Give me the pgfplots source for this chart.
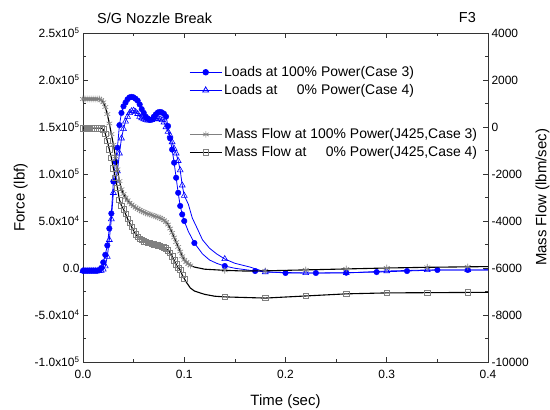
\documentclass[border=0pt]{standalone}
\usepackage{pgfplots}
\pgfplotsset{compat=1.18}
\usepackage{pgfplotstable}
\usepackage{fontspec}
\setmainfont{Liberation Sans}

% t = time (sec), y = value, m = 1 where a marker is drawn
\pgfplotstableread{
t y m
0.000 -3000 1
0.002 -3000 1
0.004 -3000 1
0.006 -3000 1
0.008 -3000 1
0.010 -3000 1
0.012 -3000 1
0.014 -3000 1
0.016 -2500 1
0.018 0 1
0.020 6000 1
0.022 14000 1
0.024 24000 1
0.026 42000 1
0.028 58000 1
0.030 92000 1
0.032 113000 1
0.034 128000 1
0.036 152000 1
0.038 165000 1
0.040 172000 1
0.042 176000 1
0.044 179500 1
0.046 181500 1
0.048 182000 1
0.050 181500 1
0.052 180000 1
0.054 178000 1
0.056 174000 1
0.058 169000 1
0.060 165000 1
0.062 161000 1
0.064 159000 1
0.066 157500 1
0.068 158000 1
0.070 161000 1
0.072 163500 1
0.074 165500 1
0.076 166000 1
0.078 165500 1
0.080 164000 1
0.082 161000 1
0.084 151000 1
0.086 138000 1
0.088 126000 1
0.090 112000 1
0.092 96000 1
0.094 80000 1
0.096 66000 1
0.098 57000 1
0.100 50000 1
0.104 39000 0
0.110 26600 1
0.118 15000 0
0.125 8500 0
0.132 5000 0
0.140 2100 1
0.150 -300 0
0.170 -3200 1
0.200 -5300 1
0.230 -5300 1
0.260 -5000 1
0.290 -4300 1
0.320 -3200 1
0.350 -2100 1
0.380 -2100 1
0.400 -2000 0
}\loadsfull

\pgfplotstableread{
t y m
0.000 -3000 1
0.002 -3000 1
0.004 -3000 1
0.006 -3000 1
0.008 -3000 1
0.010 -3000 1
0.012 -3000 1
0.014 -3000 1
0.016 -3000 1
0.018 -2800 1
0.020 -1500 1
0.022 2000 1
0.024 12000 1
0.026 30000 1
0.028 52000 1
0.030 80000 1
0.032 93000 1
0.034 103000 1
0.036 122000 1
0.038 138000 1
0.040 148000 1
0.042 156000 1
0.044 161000 1
0.046 165000 1
0.048 167000 1
0.050 167500 1
0.052 166000 1
0.054 164000 1
0.056 161000 1
0.058 159500 1
0.060 158500 1
0.062 157500 1
0.064 157000 1
0.066 157000 1
0.068 157500 1
0.070 158500 1
0.072 159000 1
0.074 159000 1
0.076 158500 1
0.078 157500 1
0.080 155000 1
0.082 150000 1
0.084 145000 1
0.086 141000 1
0.088 134000 1
0.090 127000 1
0.092 122000 1
0.094 114000 1
0.096 104000 1
0.098 88000 1
0.100 77000 1
0.104 68000 0
0.108 53000 0
0.112 44000 0
0.118 30000 0
0.125 21000 0
0.132 15000 0
0.140 9600 1
0.150 5000 0
0.165 1000 0
0.180 -4300 1
0.220 -5300 1
0.260 -5300 1
0.300 -3200 1
0.340 -2100 1
0.380 -2100 1
0.400 -2000 0
}\loadszero

\pgfplotstableread{
t y m
0.000 1190 1
0.002 1190 1
0.004 1190 1
0.006 1190 1
0.008 1190 1
0.010 1190 1
0.012 1190 1
0.014 1190 1
0.016 1190 1
0.018 1150 1
0.020 1050 1
0.022 850 1
0.024 550 1
0.026 150 1
0.028 -300 1
0.030 -750 1
0.032 -1250 1
0.034 -1800 1
0.036 -2300 1
0.038 -2650 1
0.040 -2850 1
0.042 -3000 1
0.044 -3120 1
0.046 -3220 1
0.048 -3300 1
0.050 -3370 1
0.052 -3430 1
0.054 -3480 1
0.056 -3530 1
0.058 -3580 1
0.060 -3620 1
0.062 -3660 1
0.064 -3690 1
0.066 -3720 1
0.068 -3750 1
0.070 -3780 1
0.072 -3810 1
0.074 -3840 1
0.076 -3870 1
0.078 -3910 1
0.080 -3970 1
0.082 -4040 1
0.084 -4150 1
0.086 -4320 1
0.088 -4500 1
0.090 -4700 1
0.092 -4900 1
0.094 -5100 1
0.096 -5300 1
0.098 -5500 1
0.100 -5650 1
0.102 -5750 1
0.104 -5830 1
0.106 -5890 1
0.110 -5960 0
0.120 -6050 0
0.140 -6100 1
0.160 -6130 0
0.180 -6120 1
0.220 -6080 1
0.260 -6040 1
0.300 -6000 1
0.340 -5970 1
0.380 -5950 1
0.400 -5940 0
}\flowfull

\pgfplotstableread{
t y m
0.000 -50 1
0.002 -50 1
0.004 -50 1
0.006 -50 1
0.008 -50 1
0.010 -50 1
0.012 -50 1
0.014 -50 1
0.016 -50 1
0.018 -50 1
0.020 -100 1
0.022 -280 1
0.024 -600 1
0.026 -950 1
0.028 -1300 1
0.030 -1750 1
0.032 -2150 1
0.034 -2600 1
0.036 -3100 1
0.038 -3350 1
0.040 -3500 1
0.042 -3700 1
0.044 -3900 1
0.046 -4080 1
0.048 -4250 1
0.050 -4420 1
0.052 -4560 1
0.054 -4670 1
0.056 -4750 1
0.058 -4810 1
0.060 -4860 1
0.062 -4890 1
0.064 -4920 1
0.066 -4940 1
0.068 -4970 1
0.070 -4990 1
0.072 -5010 1
0.074 -5030 1
0.076 -5060 1
0.078 -5090 1
0.080 -5120 1
0.082 -5170 1
0.084 -5250 1
0.086 -5350 1
0.088 -5500 1
0.090 -5680 1
0.092 -5850 1
0.094 -5980 1
0.096 -6080 1
0.098 -6300 1
0.100 -6450 1
0.102 -6600 0
0.106 -6850 0
0.110 -6980 0
0.120 -7120 0
0.130 -7200 0
0.140 -7230 1
0.180 -7280 1
0.220 -7190 1
0.260 -7100 1
0.300 -7060 1
0.340 -7050 1
0.380 -7040 1
0.400 -7040 0
}\flowzero

\begin{document}
\begin{tikzpicture}
\pgfplotsset{
  every axis/.append style={
    scale only axis, width=405bp, height=329bp,
    xmin=0, xmax=0.4,
    tick align=inside,
    major tick length=5bp, minor tick length=3bp,
    tick style={black!80, line width=0.6bp},
    axis line style={black!80, line width=0.8bp},
    tick label style={font=\fontsize{12}{14}\selectfont},
    label style={font=\fontsize{15}{17}\selectfont},
    legend style={draw=none, fill=none, inner sep=0pt, row sep=2.5bp,
      font=\fontsize{14}{16}\selectfont, cells={anchor=west}},
    legend image code/.code={\draw[mark repeat=2,mark phase=2,#1]
      plot coordinates {(0bp,0bp)(16bp,0bp)(32bp,0bp)};},
  },
  onlyflagged/.style={only marks, forget plot,
    restrict expr to domain={\thisrow{m}}{0.5:1.5}},
}
\useasboundingbox (-83bp,-48bp) rectangle (467bp,362bp);

\begin{axis}[
  name=ax1,
  ymin=-100000, ymax=250000,
  scaled y ticks=false,
  xtick={0,0.1,0.2,0.3,0.4},
  xticklabels={0.0,0.1,0.2,0.3,0.4},
  xticklabel style={yshift=-5bp},
  minor x tick num=1,
  xtick pos=both,
  ytick={-100000,-50000,0,50000,100000,150000,200000,250000},
  yticklabels={-1.0x10\textsuperscript{5},-5.0x10\textsuperscript{4},0.0,
    5.0x10\textsuperscript{4},1.0x10\textsuperscript{5},1.5x10\textsuperscript{5},
    2.0x10\textsuperscript{5},2.5x10\textsuperscript{5}},
  minor y tick num=1,
  ytick pos=left,
  xlabel={Time (sec)},
  xlabel style={yshift=-9bp},
  ylabel={Force (lbf)},
  legend style={at={(0.262,0.905)}, anchor=north west},
]
% Loads at 100% power: blue line, filled circles
\addplot[blue, line width=0.8bp, forget plot] table[x=t, y=y] {\loadsfull};
\addplot[blue, mark=*, mark size=2.8bp, onlyflagged] table[x=t, y=y] {\loadsfull};
% Loads at 0% power: blue line, open triangles
\addplot[blue, line width=0.8bp, forget plot] table[x=t, y=y] {\loadszero};
\addplot[blue, mark=triangle, mark size=3.4bp, mark options={line width=0.6bp}, onlyflagged] table[x=t, y=y] {\loadszero};

\addlegendimage{blue, line width=0.8bp, mark=*, mark size=2.8bp}
\addlegendentry{Loads at 100\% Power(Case 3)}
\addlegendimage{blue, line width=0.8bp, mark=triangle, mark size=3.4bp, mark options={fill=white}}
\addlegendentry{Loads at \phantom{10}0\% Power(Case 4)}
\end{axis}

\begin{axis}[
  ymin=-10000, ymax=4000,
  scaled y ticks=false,
  axis x line=none,
  axis y line*=right,
  ytick={-10000,-8000,-6000,-4000,-2000,0,2000,4000},
  yticklabels={-10000,-8000,-6000,-4000,-2000,0,2000,4000},
  minor y tick num=1,
  ylabel={Mass Flow (lbm/sec)},
  legend style={at={(0.262,0.716)}, anchor=north west},
]
% Mass flow at 100% power: gray asterisks, black line on top
\addplot[gray, mark=asterisk, mark size=3.3bp, mark options={line width=0.6bp}, onlyflagged] table[x=t, y=y] {\flowfull};
\addplot[black, line width=1.1bp, forget plot] table[x=t, y=y] {\flowfull};
% Mass flow at 0% power: black line, open gray squares
\addplot[black, line width=1.1bp, forget plot] table[x=t, y=y] {\flowzero};
\addplot[gray, mark=square, mark size=2.7bp, mark options={line width=0.6bp}, onlyflagged] table[x=t, y=y] {\flowzero};

\addlegendimage{gray, line width=0.6bp, mark=asterisk, mark size=3.3bp}
\addlegendentry{Mass Flow at 100\% Power(J425,Case 3)}
\addlegendimage{black, line width=1.1bp, mark=square, mark size=2.7bp, mark options={gray, fill=white}}
\addlegendentry{Mass Flow at \phantom{10}0\% Power(J425,Case 4)}
\end{axis}

\node[anchor=west, font=\fontsize{14.5}{16}\selectfont, inner sep=0pt,
  xshift=14bp, yshift=15bp] at (ax1.north west) {S/G Nozzle Break};
\node[anchor=east, font=\fontsize{14.5}{16}\selectfont, inner sep=0pt,
  xshift=-12bp, yshift=15bp] at (ax1.north east) {F3};
\end{tikzpicture}
\end{document}
